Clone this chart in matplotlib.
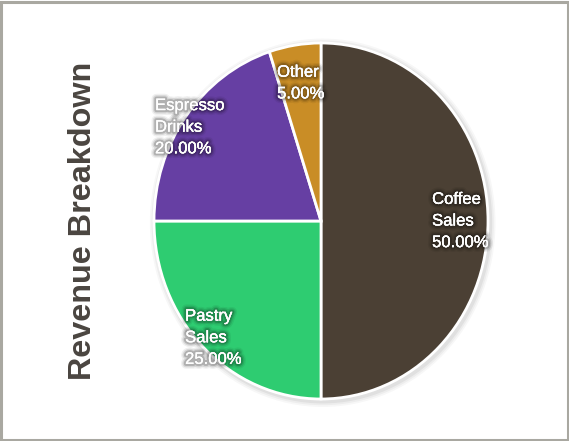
import matplotlib
matplotlib.use("Agg")
import matplotlib.pyplot as plt
import matplotlib.patheffects as pe
from matplotlib.patches import Rectangle, Ellipse

categories = ["Coffee\nSales", "Pastry\nSales", "Espresso\nDrinks", "Other"]
values = [50.0, 25.0, 20.0, 5.0]
colors = ["#4b4034", "#2ecc71", "#663fa3", "#c98d26"]
# label anchor (left edge, vertical centre) in pie data units
label_pos = [(0.665, 0.0), (-0.814, -0.656), (-0.994, 0.527), (-0.263, 0.775)]
title = "Revenue Breakdown"

W, H = 569, 441
fig = plt.figure(figsize=(W / 100, H / 100), dpi=100)
fig.patch.set_facecolor("white")

cx, cy, rx, ry = 321, 221, 167, 178
pad = 1.15
ax = fig.add_axes([(cx - rx * pad) / W, (H - cy - ry * pad) / H,
                   2 * rx * pad / W, 2 * ry * pad / H])
# soft shadow around the pie
for k, a in [(1.035, 0.03), (1.025, 0.04), (1.015, 0.05)]:
    ax.add_patch(Ellipse((0.01, -0.01), 2 * k, 2 * k, color=(0, 0, 0, a), lw=0))
wedges, _ = ax.pie(values, colors=colors, startangle=90, counterclock=False,
                   radius=1.0,
                   wedgeprops=dict(edgecolor="white", linewidth=2))
ax.set_aspect("auto")
ax.set_xlim(-pad, pad)
ax.set_ylim(-pad, pad)
ax.axis("off")

total = sum(values)
shadow = [pe.withStroke(linewidth=7, foreground=(0, 0, 0, 0.06)),
          pe.withStroke(linewidth=5, foreground=(0, 0, 0, 0.10)),
          pe.withStroke(linewidth=3, foreground=(0, 0, 0, 0.18)),
          pe.Normal()]
for cat, v, (lx, ly) in zip(categories, values, label_pos):
    ax.text(lx, ly, f"{cat}\n{v / total * 100:.2f}%", ha="left", va="center",
            color="white", fontsize=12, family="Liberation Sans",
            fontweight="medium", linespacing=1.55, path_effects=shadow)

fig.text(83 / W, 1 - 221 / H, title, rotation=90, ha="center", va="center",
         fontsize=23.3, fontweight="bold", family="Liberation Sans",
         color="#4a4540")

fig.patches.append(Rectangle((1 / W, 1 / H), (W - 2.5) / W, (H - 3) / H,
                             transform=fig.transFigure, fill=False,
                             edgecolor="#a9a8a1", linewidth=2.2))

fig.savefig("out.png", dpi=100)
